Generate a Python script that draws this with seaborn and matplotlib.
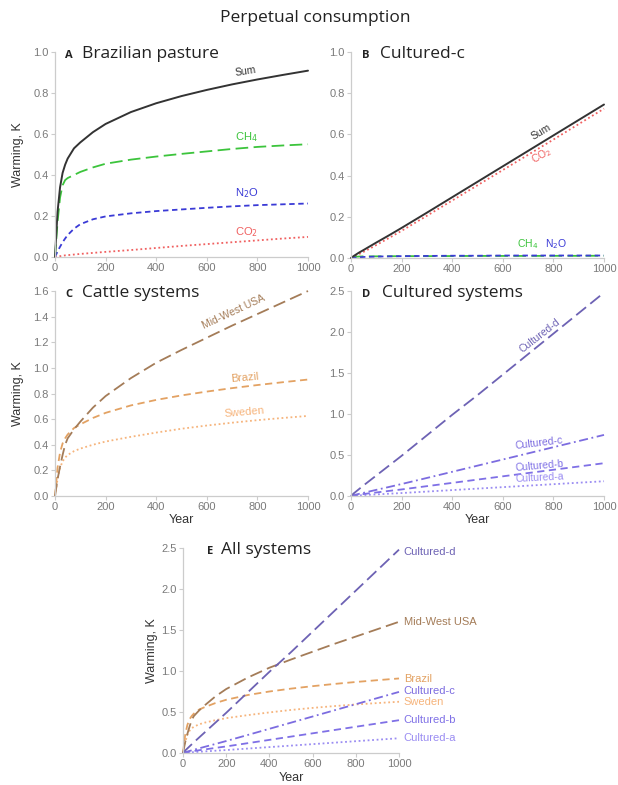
import matplotlib
matplotlib.use("Agg")
import matplotlib.pyplot as plt
import seaborn as sns

# ---------------- data ----------------
years = [0, 10, 20, 30, 40, 50, 75, 100, 150, 200, 300, 400, 500, 600, 700, 800, 900, 1000]

# Panel A: Brazilian pasture components
bp_sum = [0, 0.22, 0.34, 0.41, 0.45, 0.48, 0.53, 0.559, 0.609, 0.649, 0.707, 0.75, 0.785, 0.815, 0.842, 0.866, 0.888, 0.909]
bp_ch4 = [0, 0.17, 0.29, 0.35, 0.375, 0.385, 0.40, 0.415, 0.437, 0.455, 0.475, 0.49, 0.503, 0.515, 0.527, 0.537, 0.544, 0.55]
bp_n2o = [0, 0.027, 0.05, 0.072, 0.09, 0.107, 0.138, 0.16, 0.184, 0.198, 0.213, 0.224, 0.232, 0.24, 0.247, 0.253, 0.257, 0.261]
bp_co2 = [0, 0.002, 0.004, 0.006, 0.008, 0.009, 0.012, 0.015, 0.02, 0.025, 0.034, 0.044, 0.054, 0.063, 0.072, 0.081, 0.09, 0.098]

# Panel B: Cultured-c components
cc_sum = [0, 0.009, 0.017, 0.025, 0.032, 0.039, 0.057, 0.075, 0.11, 0.146, 0.22, 0.295, 0.37, 0.445, 0.52, 0.595, 0.67, 0.745]
cc_co2 = [0, 0.006, 0.012, 0.018, 0.024, 0.030, 0.046, 0.063, 0.097, 0.132, 0.205, 0.279, 0.353, 0.427, 0.501, 0.575, 0.65, 0.725]
cc_ch4 = [0, 0.004, 0.006, 0.007, 0.0075, 0.008, 0.008, 0.008, 0.0085, 0.009, 0.009, 0.0095, 0.010, 0.010, 0.010, 0.0105, 0.0105, 0.011]
cc_n2o = [0, 0.001, 0.002, 0.003, 0.004, 0.005, 0.006, 0.007, 0.008, 0.009, 0.010, 0.011, 0.011, 0.012, 0.012, 0.012, 0.012, 0.012]

# Panel C: cattle systems
midwest = [0, 0.13, 0.23, 0.32, 0.40, 0.45, 0.52, 0.58, 0.69, 0.78, 0.92, 1.04, 1.14, 1.235, 1.33, 1.42, 1.51, 1.60]
brazil = [0, 0.22, 0.34, 0.41, 0.45, 0.48, 0.53, 0.559, 0.609, 0.649, 0.707, 0.75, 0.785, 0.815, 0.842, 0.866, 0.888, 0.909]
sweden = [0, 0.13, 0.22, 0.27, 0.30, 0.32, 0.35, 0.37, 0.40, 0.425, 0.462, 0.495, 0.525, 0.55, 0.572, 0.592, 0.609, 0.625]

# Panel D: cultured systems
cult_d = [0, 0.03, 0.055, 0.08, 0.105, 0.13, 0.19, 0.25, 0.37, 0.49, 0.74, 0.99, 1.23, 1.48, 1.73, 1.98, 2.23, 2.48]
cult_c = [0, 0.009, 0.017, 0.025, 0.032, 0.039, 0.057, 0.075, 0.11, 0.146, 0.22, 0.295, 0.37, 0.445, 0.52, 0.595, 0.67, 0.745]
cult_b = [0, 0.006, 0.011, 0.016, 0.020, 0.024, 0.034, 0.043, 0.062, 0.08, 0.12, 0.16, 0.20, 0.24, 0.28, 0.32, 0.36, 0.40]
cult_a = [0, 0.003, 0.005, 0.007, 0.009, 0.011, 0.015, 0.019, 0.028, 0.036, 0.054, 0.072, 0.09, 0.108, 0.126, 0.144, 0.162, 0.18]

# ---------------- styles ----------------
C_SUM = "#333333"
C_CH4 = "#3cc43c"
C_N2O = "#3a3ad6"
C_CO2 = "#f06060"
C_MW = "#a47c58"
C_BR = "#e3a263"
C_SW = "#f6b47c"
C_D = "#6d62b4"
C_C = "#7c6ce0"
C_B = "#7f70e6"
C_A = "#9a8cf2"

LS_LONG = (0, (7, 3))
LS_MED = (0, (4, 2.5))
LS_SHORT = (0, (3, 2))
LS_DOT = (0, (1, 1.5))
LS_DASHDOT = (0, (5, 2, 1, 2))

sns.set_theme(style="ticks")
plt.rcParams["font.family"] = ["Liberation Sans", "DejaVu Sans"]

W, H = 618, 785
fig = plt.figure(figsize=(W / 100, H / 100), dpi=100)


def make_ax(left, top, right, bottom):
    return fig.add_axes([left / W, 1 - bottom / H, (right - left) / W, (bottom - top) / H])


axA = make_ax(55, 52, 308, 257)
axB = make_ax(351, 52, 604, 258)
axC = make_ax(55, 291, 308, 496)
axD = make_ax(351, 291, 604, 496)
axE = make_ax(183, 548, 399, 753)


def style_ax(ax, ymax, yticks):
    ax.set_xlim(0, 1000)
    ax.set_ylim(0, ymax)
    ax.set_xticks([0, 200, 400, 600, 800, 1000])
    ax.set_yticks(yticks)
    ax.set_yticklabels([f"{t:.1f}" for t in yticks])
    sns.despine(ax=ax)
    for s in ("left", "bottom"):
        ax.spines[s].set_color("#cccccc")
        ax.spines[s].set_linewidth(0.9)
    ax.tick_params(axis="both", colors="#cccccc", labelcolor="#7a7a7a",
                   labelsize=8, length=3, width=0.8, pad=1.5)
    ax.set_xlabel("")
    ax.set_ylabel("")


def panel_title(ax, letter, text, lx_px, tx_px, width_px):
    ax.text(lx_px / width_px, 0.985, letter, transform=ax.transAxes, fontsize=8,
            fontweight="bold", color="#222222", va="center", ha="left",
            family=["Open Sans", "DejaVu Sans"])
    ax.text(tx_px / width_px, 0.99, text, transform=ax.transAxes, fontsize=12.5,
            color="#222222", va="center", ha="left", family=["Open Sans", "DejaVu Sans"])


def line(ax, y, color, ls, lw=1.3):
    sns.lineplot(x=years, y=y, ax=ax, color=color, linestyle=ls, linewidth=lw, clip_on=False)


# ---- Panel A ----
line(axA, bp_co2, C_CO2, LS_DOT)
line(axA, bp_n2o, C_N2O, LS_SHORT)
line(axA, bp_ch4, C_CH4, LS_LONG)
line(axA, bp_sum, C_SUM, "-", lw=1.4)
style_ax(axA, 1.0, [0, 0.2, 0.4, 0.6, 0.8, 1.0])
panel_title(axA, "A", "Brazilian pasture", 10, 27, 253)
axA.text(752, 0.905, "Sum", color=C_SUM, fontsize=7.5, rotation=9, ha="center", va="center")
axA.text(758, 0.585, "CH$_4$", color=C_CH4, fontsize=8, ha="center", va="center")
axA.text(758, 0.312, "N$_2$O", color=C_N2O, fontsize=8, ha="center", va="center")
axA.text(758, 0.122, "CO$_2$", color=C_CO2, fontsize=8, ha="center", va="center")

# ---- Panel B ----
line(axB, cc_co2, C_CO2, LS_DOT)
line(axB, cc_ch4, C_CH4, LS_LONG)
line(axB, cc_n2o, C_N2O, LS_SHORT)
line(axB, cc_sum, C_SUM, "-", lw=1.4)
style_ax(axB, 1.0, [0, 0.2, 0.4, 0.6, 0.8, 1.0])
panel_title(axB, "B", "Cultured-c", 11, 29, 253)
axB.text(752, 0.61, "Sum", color=C_SUM, fontsize=7.5, rotation=31, ha="center", va="center")
axB.text(752, 0.495, "CO$_2$", color=C_CO2, fontsize=7.5, rotation=31, ha="center", va="center")
axB.text(700, 0.068, "CH$_4$", color=C_CH4, fontsize=7.5, ha="center", va="center")
axB.text(812, 0.068, "N$_2$O", color=C_N2O, fontsize=7.5, ha="center", va="center")

# ---- Panel C ----
line(axC, sweden, C_SW, LS_DOT)
line(axC, brazil, C_BR, LS_MED)
line(axC, midwest, C_MW, LS_LONG)
style_ax(axC, 1.6, [0, 0.2, 0.4, 0.6, 0.8, 1.0, 1.2, 1.4, 1.6])
panel_title(axC, "C", "Cattle systems", 10, 27, 253)
axC.text(705, 1.44, "Mid-West USA", color=C_MW, fontsize=7.5, rotation=25, ha="center", va="center")
axC.text(750, 0.925, "Brazil", color=C_BR, fontsize=8, rotation=5, ha="center", va="center")
axC.text(750, 0.655, "Sweden", color=C_SW, fontsize=8, rotation=5, ha="center", va="center")

# ---- Panel D ----
line(axD, cult_a, C_A, LS_DOT)
line(axD, cult_b, C_B, LS_MED)
line(axD, cult_c, C_C, LS_DASHDOT)
line(axD, cult_d, C_D, LS_LONG)
style_ax(axD, 2.5, [0, 0.5, 1.0, 1.5, 2.0, 2.5])
panel_title(axD, "D", "Cultured systems", 11, 31, 253)
axD.text(745, 1.96, "Cultured-d", color=C_D, fontsize=7.5, rotation=38, ha="center", va="center")
axD.text(745, 0.65, "Cultured-c", color=C_C, fontsize=7.5, rotation=7, ha="center", va="center")
axD.text(745, 0.37, "Cultured-b", color=C_B, fontsize=7.5, rotation=5, ha="center", va="center")
axD.text(745, 0.225, "Cultured-a", color=C_A, fontsize=7.5, rotation=3, ha="center", va="center")

# ---- Panel E ----
line(axE, sweden, C_SW, LS_DOT)
line(axE, cult_a, C_A, LS_DOT)
line(axE, cult_b, C_B, LS_MED)
line(axE, cult_c, C_C, LS_DASHDOT)
line(axE, brazil, C_BR, LS_MED)
line(axE, midwest, C_MW, LS_LONG)
line(axE, cult_d, C_D, LS_LONG)
style_ax(axE, 2.5, [0, 0.5, 1.0, 1.5, 2.0, 2.5])
panel_title(axE, "E", "All systems", 24, 38, 216)
e_labels = [("Cultured-d", 2.45, C_D), ("Mid-West USA", 1.6, C_MW), ("Brazil", 0.9, C_BR),
            ("Cultured-c", 0.75, C_C), ("Sweden", 0.62, C_SW), ("Cultured-b", 0.4, C_B),
            ("Cultured-a", 0.18, C_A)]
for txt, yv, col in e_labels:
    axE.text(1022, yv, txt, color=col, fontsize=8, ha="left", va="center", clip_on=False)

# ---- axis labels ----
for ax, px in ((axA, -31 / 253), (axC, -31 / 253), (axE, -25 / 216)):
    ax.set_ylabel("Warming, K", fontsize=9, color="#333333")
    ax.yaxis.set_label_coords(px, 0.5)
for ax, py in ((axC, -0.088), (axD, -0.088), (axE, -0.093)):
    ax.set_xlabel("Year", fontsize=9, color="#333333")
    ax.xaxis.set_label_coords(0.5, py)

fig.text(315 / W, 1 - 18 / H, "Perpetual consumption", ha="center", va="center",
         fontsize=12.5, color="#222222", family=["Open Sans", "DejaVu Sans"])

fig.savefig("out.png", dpi=100, facecolor="white")
